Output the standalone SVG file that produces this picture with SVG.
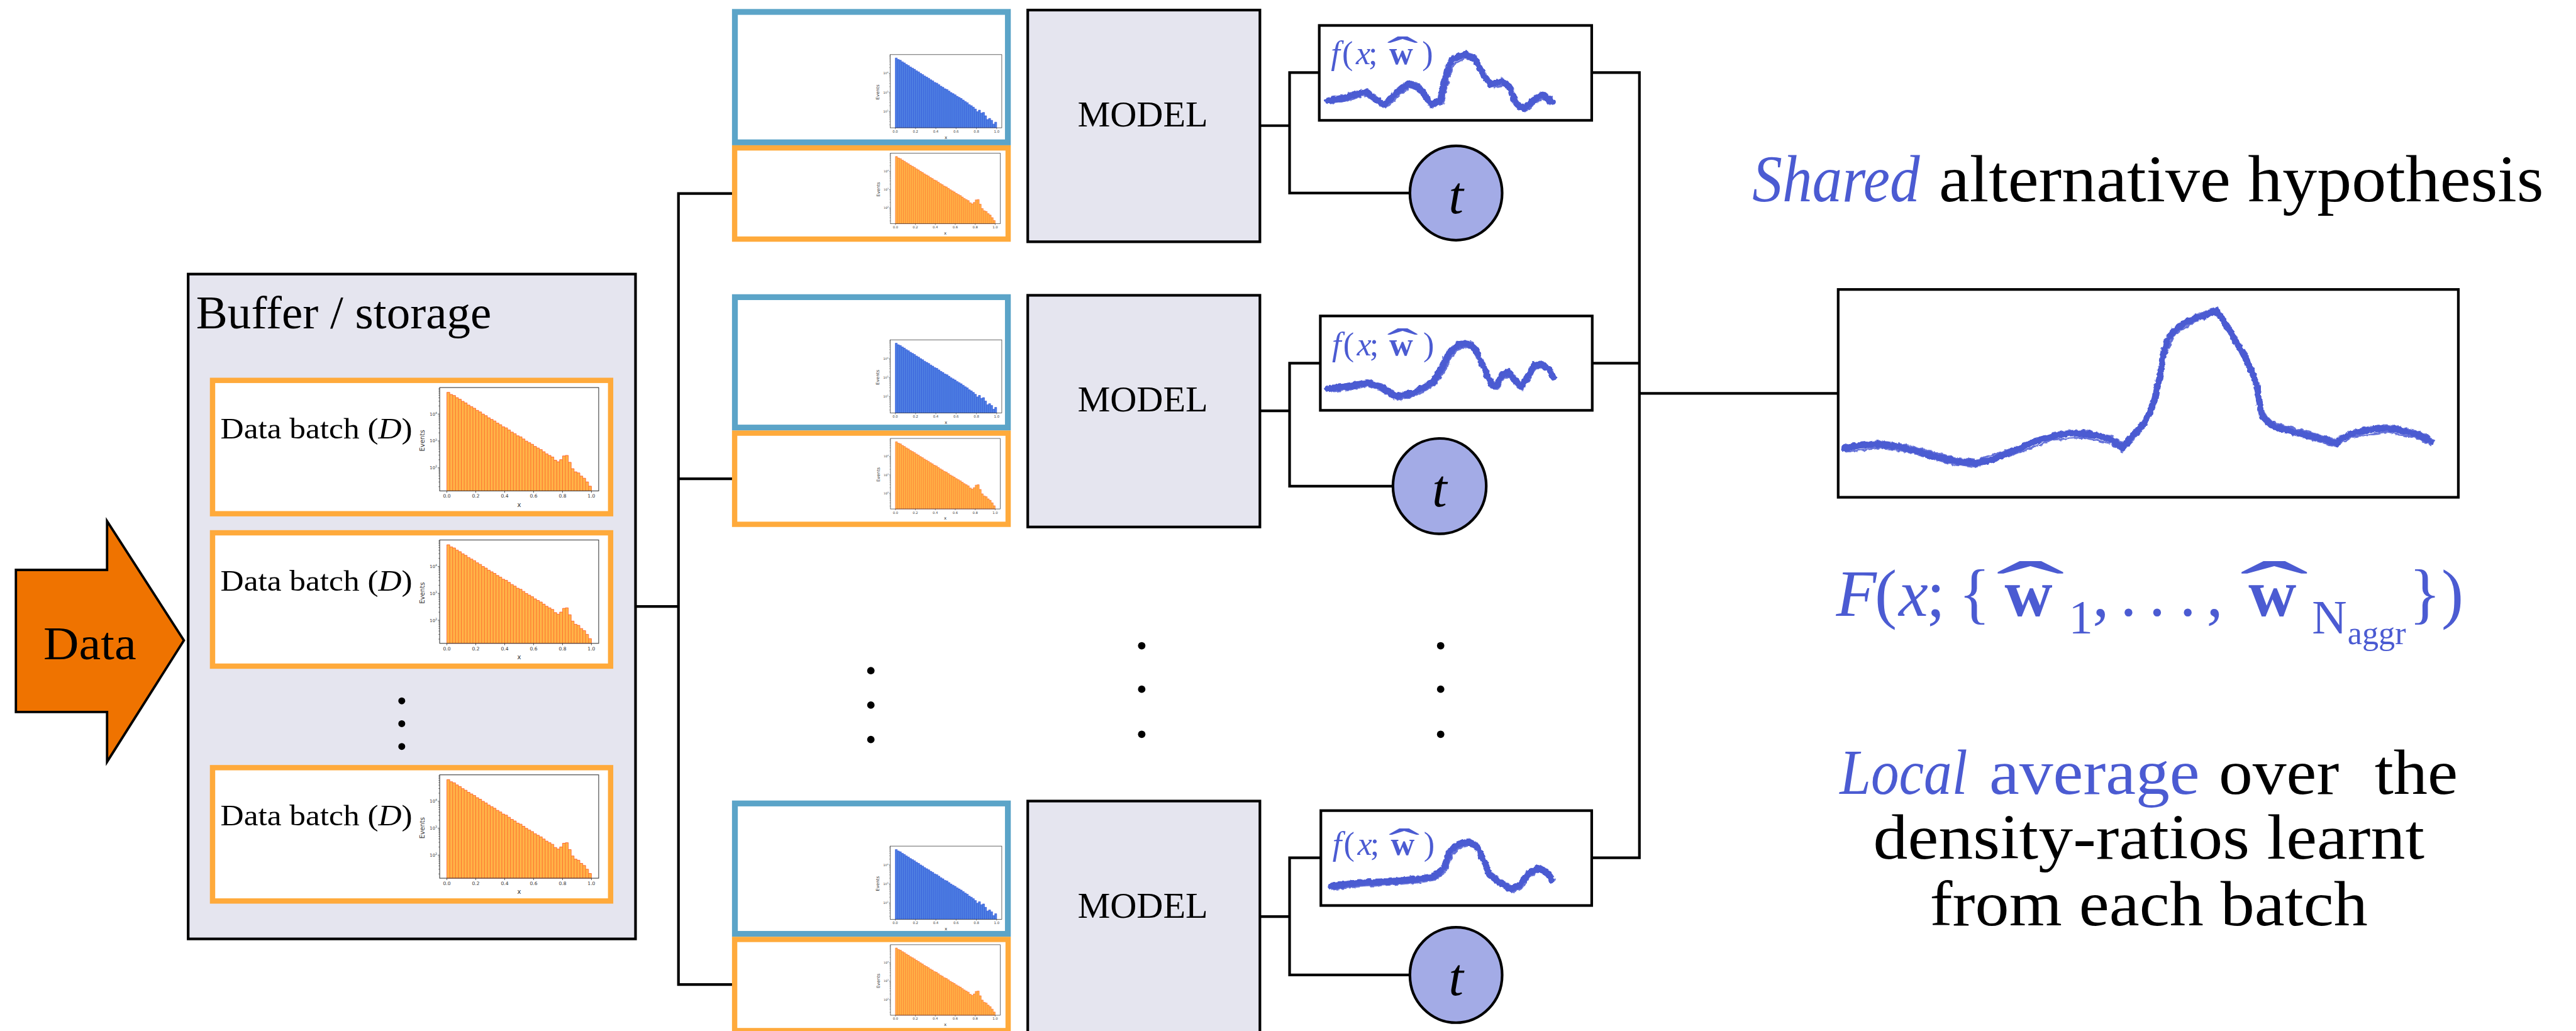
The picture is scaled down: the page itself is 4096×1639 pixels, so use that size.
<svg xmlns="http://www.w3.org/2000/svg" width="4096" height="1639" viewBox="0 0 4096 1639">
<defs>
<style>
.conn{fill:none;stroke:#000;stroke-width:5;stroke-linecap:square}
.box{stroke:#000;stroke-width:5}
.lav{fill:#e5e5ef}
.obox{fill:#fff;stroke:#ffaa3b;stroke-width:10}
.bbox{fill:#fff;stroke:#5ba4c8;stroke-width:11}
.serif{font-family:"Liberation Serif","Times New Roman",serif}
.blue{fill:#4b5bd2}
.curve{fill:none;stroke:#4b5bd2;stroke-width:12;stroke-linecap:round;stroke-linejoin:round}
.fuzz{fill:none;stroke:#4b5bd2;stroke-width:3.5;stroke-linejoin:round;opacity:.85}
.tc{fill:#a3abe6;stroke:#000;stroke-width:5}
.ax{font-family:"DejaVu Sans",sans-serif;fill:#333}
</style>
<!-- ragged edge for the hand-drawn looking density curves -->
<filter id="rough" x="-5%" y="-25%" width="110%" height="150%">
<feTurbulence type="fractalNoise" baseFrequency="0.13" numOctaves="2" seed="3"/>
<feDisplacementMap in="SourceGraphic" scale="7" xChannelSelector="R" yChannelSelector="G"/>
</filter>
<!-- shared axes frame for the small log-scale histograms -->
<g id="hist-axes">
<rect x="0" y="0" width="300" height="195" fill="none" stroke="#3a3a3a" stroke-width="1.3"/>
<path fill="none" stroke="#3a3a3a" stroke-width="1" d="M0,50h-3.5M0,100.75h-3.5M0,151.5h-3.5M0,34.7h-2M0,25.8h-2M0,19.4h-2M0,14.5h-2M0,10.5h-2M0,7.1h-2M0,4.2h-2M0,1.6h-2M0,85.5h-2M0,76.6h-2M0,70.2h-2M0,65.3h-2M0,61.3h-2M0,57.9h-2M0,55h-2M0,52.4h-2M0,136.2h-2M0,127.3h-2M0,120.9h-2M0,116h-2M0,112h-2M0,108.6h-2M0,105.7h-2M0,103.1h-2M0,187h-2M0,178.1h-2M0,171.7h-2M0,166.8h-2M0,162.8h-2M0,159.4h-2M0,156.5h-2M0,153.9h-2M13.6,195v3.5M68.1,195v3.5M122.7,195v3.5M177.2,195v3.5M231.8,195v3.5M286.3,195v3.5"/>
<g class="ax" font-size="9" text-anchor="middle">
<text x="13.6" y="208">0.0</text><text x="68.1" y="208">0.2</text><text x="122.7" y="208">0.4</text><text x="177.2" y="208">0.6</text><text x="231.8" y="208">0.8</text><text x="286.3" y="208">1.0</text>
<text x="150" y="225" font-size="12">x</text>
<text transform="translate(-29,100) rotate(-90)" font-size="12">Events</text>
</g>
<g class="ax" font-size="8" text-anchor="end">
<text x="-5" y="53">10<tspan font-size="5.5" dy="-3.5">4</tspan></text>
<text x="-5" y="103.7">10<tspan font-size="5.5" dy="-3.5">3</tspan></text>
<text x="-5" y="154.5">10<tspan font-size="5.5" dy="-3.5">2</tspan></text>
</g>
</g>
<g id="hist-orange">
<path fill="#ffb347" stroke="#ff5a28" stroke-width="1" d="M13.6,195V9H19.05V13H24.5V15H29.96V19H35.4V22H40.87V26H46.3V29H51.8V33H57.2V36H62.7V39H68.1V43H73.6V46H79.1V50H84.5V53H90V57H95.4V60H100.9V63H106.3V67H111.8V70H117.2V74H122.7V76H128.1V80H133.6V84H139.1V87H144.5V91H150V93H155.4V97H160.9V101H166.3V104H171.8V107H177.2V111H182.7V114H188.1V117H193.6V121H199.1V125H204.5V128H210V131H215.4V137H220.9V140H226.3V136H231.8V129H237.2V128H242.7V141H248.1V153H253.6V159H259.1V161H264.5V167H270V171H275.4V178H280.9V186H286.3V195Z"/>
<path fill="none" stroke="#ff5a28" stroke-width="0.9" d="M19.05,13V195M24.5,15V195M29.96,19V195M35.4,22V195M40.87,26V195M46.3,29V195M51.8,33V195M57.2,36V195M62.7,39V195M68.1,43V195M73.6,46V195M79.1,50V195M84.5,53V195M90,57V195M95.4,60V195M100.9,63V195M106.3,67V195M111.8,70V195M117.2,74V195M122.7,76V195M128.1,80V195M133.6,84V195M139.1,87V195M144.5,91V195M150,93V195M155.4,97V195M160.9,101V195M166.3,104V195M171.8,107V195M177.2,111V195M182.7,114V195M188.1,117V195M193.6,121V195M199.1,125V195M204.5,128V195M210,131V195M215.4,137V195M220.9,140V195M226.3,140V195M231.8,136V195M237.2,129V195M242.7,141V195M248.1,153V195M253.6,159V195M259.1,161V195M264.5,167V195M270,171V195M275.4,178V195M280.9,186V195"/>
<use href="#hist-axes"/>
</g>
<g id="hist-blue">
<path fill="#4f80e2" stroke="#2747d8" stroke-width="1" d="M13.6,195V9H19.05V13H24.5V15H29.96V19H35.4V22H40.87V26H46.3V29H51.8V33H57.2V36H62.7V39H68.1V43H73.6V46H79.1V50H84.5V53H90V57H95.4V60H100.9V63H106.3V67H111.8V70H117.2V74H122.7V76H128.1V80H133.6V84H139.1V87H144.5V91H150V93H155.4V97H160.9V101H166.3V104H171.8V107H177.2V111H182.7V114H188.1V117H193.6V121H199.1V125H204.5V128H210V133H215.4V136H220.9V140H226.3V145H231.8V152H237.2V148H242.7V156H248.1V154H253.6V163H259.1V173H264.5V170H270V175H275.4V185H280.9V180H286.3V195Z"/>
<path fill="none" stroke="#2747d8" stroke-width="0.9" d="M19.05,13V195M24.5,15V195M29.96,19V195M35.4,22V195M40.87,26V195M46.3,29V195M51.8,33V195M57.2,36V195M62.7,39V195M68.1,43V195M73.6,46V195M79.1,50V195M84.5,53V195M90,57V195M95.4,60V195M100.9,63V195M106.3,67V195M111.8,70V195M117.2,74V195M122.7,76V195M128.1,80V195M133.6,84V195M139.1,87V195M144.5,91V195M150,93V195M155.4,97V195M160.9,101V195M166.3,104V195M171.8,107V195M177.2,111V195M182.7,114V195M188.1,117V195M193.6,121V195M199.1,125V195M204.5,128V195M210,133V195M215.4,136V195M220.9,140V195M226.3,145V195M231.8,152V195M237.2,152V195M242.7,156V195M248.1,156V195M253.6,163V195M259.1,173V195M264.5,173V195M270,175V195M275.4,185V195M280.9,185V195"/>
<use href="#hist-axes"/>
</g>
</defs>
<rect x="0" y="0" width="4096" height="1639" fill="#fff"/>
<g transform="scale(0.842798)">

<g id="connectors">
<path class="conn" d="M1199,1144H1280M1280,365V1857M1280,365H1381M1280,903H1381M1280,1857H1383"/>
<path class="conn" d="M2377,237H2433M2433,137V364M2433,137H2489M2433,364H2659"/>
<path class="conn" d="M2377,775H2433M2433,685V917M2433,685H2491M2433,917H2627"/>
<path class="conn" d="M2377,1729H2433M2433,1618V1839M2433,1618H2492M2433,1839H2658"/>
<path class="conn" d="M3003,137H3093M3004,685H3093M3003,1618H3093M3093,137V1618M3093,742H3468"/>
</g>

<g id="data-input">
<polygon points="30,1075 202,1075 202,983 347,1208 202,1437 202,1343 30,1343" fill="#ef7300" stroke="#000" stroke-width="4.5" stroke-linejoin="miter"/>
<text class="serif" x="82" y="1243" font-size="88" textLength="175" lengthAdjust="spacingAndGlyphs">Data</text>
</g>

<g id="buffer">
<rect class="box lav" x="355" y="517" width="844" height="1254"/>
<text class="serif" x="370" y="619" font-size="88" textLength="557" lengthAdjust="spacingAndGlyphs">Buffer / storage</text>
<g id="batch-1">
<rect class="obox" x="401" y="717.5" width="751" height="251.5"/>
<text class="serif" x="416" y="826.5" font-size="55" textLength="362" lengthAdjust="spacingAndGlyphs">Data batch (<tspan font-style="italic">D</tspan>)</text>
<use href="#hist-orange" transform="translate(829.5,731)"/>
</g>
<g id="batch-2">
<rect class="obox" x="401" y="1005" width="751" height="251.5"/>
<text class="serif" x="416" y="1114" font-size="55" textLength="362" lengthAdjust="spacingAndGlyphs">Data batch (<tspan font-style="italic">D</tspan>)</text>
<use href="#hist-orange" transform="translate(829.5,1018.5)"/>
</g>
<circle cx="758" cy="1322" r="6.5"/>
<circle cx="758" cy="1365" r="6.5"/>
<circle cx="758" cy="1408" r="6.5"/>
<g id="batch-3">
<rect class="obox" x="401" y="1448" width="751" height="251.5"/>
<text class="serif" x="416" y="1557" font-size="55" textLength="362" lengthAdjust="spacingAndGlyphs">Data batch (<tspan font-style="italic">D</tspan>)</text>
<use href="#hist-orange" transform="translate(829.5,1461.5)"/>
</g>
</g>

<!-- first training unit -->
<g id="unit-1">
<rect class="bbox" x="1386.5" y="22.5" width="515" height="246"/>
<use href="#hist-blue" transform="translate(1679.5,103) scale(0.7017,0.7077)"/>
<rect class="obox" x="1386" y="279" width="516" height="172"/>
<use href="#hist-orange" transform="translate(1680,289) scale(0.69,0.682)"/>
<rect class="box lav" x="1939" y="19" width="438" height="437"/>
<text class="serif" x="2156" y="238" font-size="68" text-anchor="middle" textLength="246" lengthAdjust="spacingAndGlyphs">MODEL</text>
<rect class="box" fill="#fff" x="2489" y="48" width="514" height="179"/>
<text class="serif blue" y="121" font-size="62"><tspan x="2511" font-style="italic">f</tspan><tspan x="2532">(</tspan><tspan x="2558" font-style="italic">x</tspan><tspan x="2582">;</tspan><tspan x="2621" font-weight="bold">w</tspan><tspan x="2683">)</tspan><tspan x="2616.5" y="123.6" font-size="78" textLength="59" lengthAdjust="spacingAndGlyphs">ˆ</tspan></text>
<g filter="url(#rough)">
<path class="curve" d="M2505,190L2535,185L2577,173L2594,187L2612,198L2637,173L2658,157L2679,167L2700,197L2717,190L2728,143L2738,113L2763,102L2784,113L2798,140L2812,160L2833,153L2847,163L2861,197L2875,205L2896,187L2910,178L2928,192"/>
<path class="fuzz" d="M2507,196L2540,190L2575,180L2600,195L2615,204L2640,180L2660,164L2683,174L2702,203L2722,194L2733,148L2744,120L2765,109L2790,120L2803,147L2818,166L2836,160L2852,170L2864,203L2878,210L2899,193L2914,185L2926,199"/>
<path class="fuzz" d="M2507,185L2537,180L2579,168L2596,182L2614,193L2639,168L2660,152L2681,162L2702,192L2719,185L2730,138L2740,108L2765,97L2786,108L2800,135L2814,155L2835,148L2849,158L2863,192L2877,200L2898,182L2912,173L2930,187"/>
</g>
<ellipse class="tc" cx="2747" cy="364" rx="87" ry="89"/>
<text class="serif" x="2747" y="402" font-size="100" font-style="italic" text-anchor="middle">t</text>
</g>

<!-- second training unit -->
<g id="unit-2">
<rect class="bbox" x="1386.5" y="560.5" width="515" height="246"/>
<use href="#hist-blue" transform="translate(1679.5,641) scale(0.7017,0.7077)"/>
<rect class="obox" x="1386" y="817" width="516" height="172"/>
<use href="#hist-orange" transform="translate(1680,827) scale(0.69,0.682)"/>
<rect class="box lav" x="1939" y="557" width="438" height="437"/>
<text class="serif" x="2156" y="776" font-size="68" text-anchor="middle" textLength="246" lengthAdjust="spacingAndGlyphs">MODEL</text>
<rect class="box" fill="#fff" x="2491" y="596" width="513" height="178"/>
<text class="serif blue" y="670" font-size="62"><tspan x="2513" font-style="italic">f</tspan><tspan x="2534">(</tspan><tspan x="2560" font-style="italic">x</tspan><tspan x="2584">;</tspan><tspan x="2621" font-weight="bold">w</tspan><tspan x="2685">)</tspan><tspan x="2616.5" y="674.3" font-size="78" textLength="59" lengthAdjust="spacingAndGlyphs">ˆ</tspan></text>
<g filter="url(#rough)">
<path class="curve" d="M2505,733L2534,730L2579,722L2605,730L2634,748L2668,740L2704,720L2721,693L2733,667L2753,648L2770,648L2784,660L2793,680L2802,700L2815,727L2824,728L2833,707L2846,703L2860,720L2869,730L2882,710L2895,688L2909,687L2922,697L2931,713"/>
<path class="fuzz" d="M2507,739L2536,736L2580,728L2606,737L2635,754L2670,746L2707,726L2726,699L2738,673L2756,655L2772,655L2789,667L2798,686L2807,706L2818,733L2827,734L2837,713L2849,710L2862,726L2871,736L2885,716L2898,694L2910,693L2925,703L2929,717"/>
<path class="fuzz" d="M2507,728L2536,725L2581,717L2607,725L2636,743L2670,735L2706,715L2723,688L2735,662L2755,643L2772,643L2786,655L2795,675L2804,695L2817,722L2826,723L2835,702L2848,698L2862,715L2871,725L2884,705L2897,683L2911,682L2924,692L2933,708"/>
</g>
<ellipse class="tc" cx="2716" cy="917" rx="88" ry="90"/>
<text class="serif" x="2716" y="955" font-size="100" font-style="italic" text-anchor="middle">t</text>
</g>

<g id="ellipsis">
<circle cx="1643" cy="1265" r="7"/><circle cx="1643" cy="1330" r="7"/><circle cx="1643" cy="1395" r="7"/>
<circle cx="2154" cy="1218" r="7"/><circle cx="2154" cy="1300" r="7"/><circle cx="2154" cy="1385" r="7"/>
<circle cx="2718" cy="1218" r="7"/><circle cx="2718" cy="1300" r="7"/><circle cx="2718" cy="1385" r="7"/>
</g>

<!-- last training unit -->
<g id="unit-n">
<rect class="bbox" x="1386.5" y="1515.5" width="515" height="246"/>
<use href="#hist-blue" transform="translate(1679.5,1596) scale(0.7017,0.7077)"/>
<rect class="obox" x="1386" y="1772" width="516" height="172"/>
<use href="#hist-orange" transform="translate(1680,1782) scale(0.69,0.682)"/>
<rect class="box lav" x="1939" y="1511" width="438" height="437"/>
<text class="serif" x="2156" y="1731" font-size="68" text-anchor="middle" textLength="246" lengthAdjust="spacingAndGlyphs">MODEL</text>
<rect class="box" fill="#fff" x="2492" y="1529" width="511" height="179"/>
<text class="serif blue" y="1613" font-size="62"><tspan x="2514" font-style="italic">f</tspan><tspan x="2535">(</tspan><tspan x="2561" font-style="italic">x</tspan><tspan x="2585">;</tspan><tspan x="2624" font-weight="bold">w</tspan><tspan x="2686">)</tspan><tspan x="2619.5" y="1617.6" font-size="78" textLength="59" lengthAdjust="spacingAndGlyphs">ˆ</tspan></text>
<g filter="url(#rough)">
<path class="curve" d="M2511,1672L2563,1665L2620,1663L2678,1658L2706,1653L2724,1637L2735,1607L2752,1592L2770,1588L2787,1597L2798,1620L2810,1650L2827,1663L2850,1677L2867,1670L2884,1647L2902,1637L2919,1647L2928,1660"/>
<path class="fuzz" d="M2512,1678L2565,1672L2622,1669L2680,1664L2709,1659L2729,1643L2740,1613L2755,1598L2772,1595L2792,1604L2803,1627L2814,1656L2830,1669L2852,1683L2870,1676L2887,1653L2904,1643L2921,1653L2926,1665"/>
<path class="fuzz" d="M2513,1667L2565,1660L2622,1658L2680,1653L2708,1648L2726,1632L2737,1602L2754,1587L2772,1583L2789,1592L2800,1615L2812,1645L2829,1658L2852,1672L2869,1665L2886,1642L2904,1632L2921,1642L2930,1655"/>
</g>
<ellipse class="tc" cx="2747" cy="1839" rx="87" ry="90"/>
<text class="serif" x="2747" y="1877" font-size="100" font-style="italic" text-anchor="middle">t</text>
</g>

<g id="shared-hypothesis">
<text class="serif blue" x="3306" y="380" font-size="125" font-style="italic" textLength="316" lengthAdjust="spacingAndGlyphs">Shared</text>
<text class="serif" x="3658" y="380" font-size="125" textLength="1141" lengthAdjust="spacingAndGlyphs">alternative hypothesis</text>
<rect class="box" fill="#fff" x="3468" y="546" width="1170" height="392"/>
<g filter="url(#rough)">
<path class="curve" stroke-width="13" d="M3479,845L3510,840L3543,838L3575,842L3598,846L3640,858L3690,870L3725,874L3756,868L3800,850L3840,832L3875,822L3905,817L3930,818L3960,822L3985,830L4005,845L4020,825L4041,803L4055,780L4065,753L4075,710L4081,667L4090,640L4100,625L4120,610L4136,602L4160,595L4181,586L4195,605L4207,625L4225,655L4239,680L4252,710L4259,733L4263,760L4268,785L4286,803L4320,813L4349,820L4380,828L4409,836L4420,825L4436,818L4470,810L4500,808L4530,812L4555,818L4587,832"/>
<path class="fuzz" d="M3481,852L3545,845L3600,853L3690,877L3726,881L3800,857L3875,829L3930,825L3985,837L4004,852L4043,810L4068,758L4084,672L4103,631L4138,608L4179,592L4200,611L4243,686L4264,738L4272,789L4290,809L4350,826L4408,842L4438,824L4500,815L4556,825L4585,838"/>
<path class="fuzz" d="M3481,839L3545,832L3600,840L3690,864L3727,868L3802,844L3877,816L3932,812L3987,824L4007,839L4043,797L4067,747L4083,661L4102,619L4138,596L4183,580L4209,619L4241,674L4261,727L4270,779L4288,797L4351,814L4411,830L4438,812L4502,802L4557,812L4589,826"/>
</g>
<text class="serif blue" y="1162" font-size="125"><tspan x="3464" font-style="italic">F</tspan><tspan x="3537">(</tspan><tspan x="3582" font-style="italic">x</tspan><tspan x="3635">;</tspan><tspan x="3695">{</tspan><tspan x="3782" font-weight="bold">w</tspan><tspan x="3903" y="1195" font-size="91">1</tspan><tspan x="3948" y="1162">,</tspan><tspan x="4000 4054 4112">...</tspan><tspan x="4163">,</tspan><tspan x="4242" font-weight="bold">w</tspan><tspan x="4362" y="1195" font-size="91">N</tspan><tspan x="4429" y="1215" font-size="62">aggr</tspan><tspan x="4545" y="1162">}</tspan><tspan x="4606">)</tspan><tspan x="3765.5" y="1167" font-size="156" textLength="130" lengthAdjust="spacingAndGlyphs">ˆ</tspan><tspan x="4225.5" y="1167" font-size="156" textLength="130" lengthAdjust="spacingAndGlyphs">ˆ</tspan></text>
<text class="serif blue" x="3471" y="1497" font-size="121" font-style="italic" textLength="241" lengthAdjust="spacingAndGlyphs">Local</text>
<text class="serif blue" x="3753" y="1497" font-size="121" textLength="397" lengthAdjust="spacingAndGlyphs">average</text>
<text class="serif" x="4186" y="1497" font-size="121" textLength="227" lengthAdjust="spacingAndGlyphs">over</text>
<text class="serif" x="4480" y="1497" font-size="121" textLength="157" lengthAdjust="spacingAndGlyphs">the</text>
<text class="serif" x="3534" y="1620" font-size="121" textLength="1040" lengthAdjust="spacingAndGlyphs">density-ratios learnt</text>
<text class="serif" x="3641" y="1745" font-size="121" textLength="826" lengthAdjust="spacingAndGlyphs">from each batch</text>
</g>

</g>
</svg>
